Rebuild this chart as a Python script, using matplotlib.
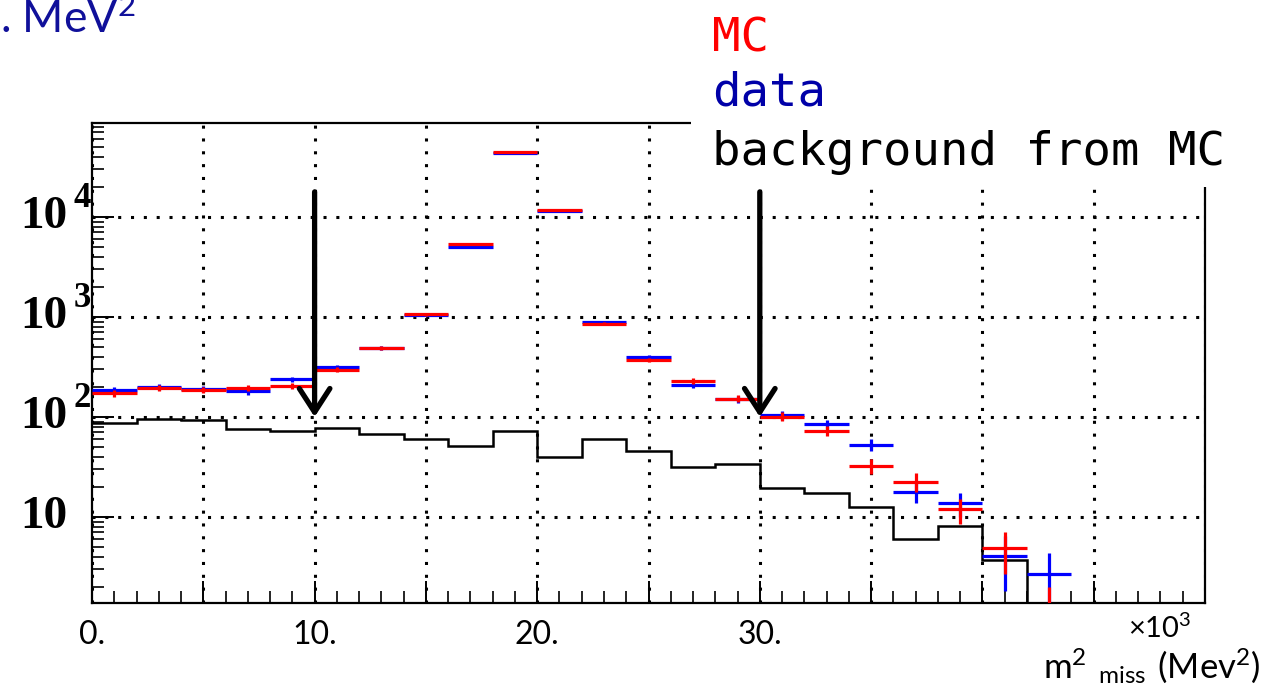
import numpy as np
import matplotlib
matplotlib.use('Agg')
import matplotlib.pyplot as plt
import matplotlib.ticker as ticker
import matplotlib.transforms as mtransforms
from matplotlib.patches import Rectangle

# m^2 miss bins (x10^3 MeV^2), 2 units wide
bin_edges = [0, 2, 4, 6, 8, 10, 12, 14, 16, 18, 20, 22, 24, 26, 28, 30, 32, 34, 36, 38, 40, 42, 44]
bin_centers = [1, 3, 5, 7, 9, 11, 13, 15, 17, 19, 21, 23, 25, 27, 29, 31, 33, 35, 37, 39, 41, 43]

mc_vals = [173, 196, 186, 196, 204, 297, 493, 1064, 5370, 44360, 11750, 858,
           372, 231, 152, 101, 73, 32.6, 22.5, 11.9, 4.9, 1.0]
mc_errs = [13, 14, 14, 14, 14, 17, 22, 33, 73, 210, 108, 29,
           19, 15, 12, 10, 8.5, 5.7, 4.8, 3.4, 2.2, 1.0]

data_vals = [186, 198, 192, 180, 238, 314, 493, 1050, 4977, 44000, 11480, 885,
             401, 207, 150, 104, 85, 52.5, 17.9, 13.7, 4.1, 2.7]
data_errs = [14, 14, 14, 13, 15, 18, 22, 32, 71, 210, 107, 30,
             20, 14, 12, 10, 9.2, 7.3, 4.2, 3.7, 2.3, 1.7]

bkg_vals = [87.8, 94.8, 92.7, 75.9, 72, 77.6, 67.1, 60.3, 51.6, 73, 39.8, 60.7,
            45.7, 31.6, 33.6, 19.4, 17.3, 12.7, 6.0, 8.2, 3.7, 0]

cut_positions = [10, 30]
x_ticks = [0, 5, 10, 15, 20, 25, 30, 35, 40, 45, 50]
x_ticklabels = ['0.', '', '10.', '', '20.', '', '30.', '', '', '', '']
y_decades = [10, 100, 1000, 10000]
y_exponents = ['', '2', '3', '4']

fig = plt.figure(figsize=(12.68, 6.9), dpi=100)
ax = fig.add_axes([92 / 1268, 87 / 690, 1113 / 1268, 480 / 690])

ax.set_yscale('log')
ax.set_xlim(0, 50)
ax.set_ylim(1.38, 87000)

# grid
ax.set_xticks(x_ticks)
ax.grid(True, which='major', color='black', linestyle=(0, (1.0, 3.2)), lw=2.2)

# histograms
ax.stairs(bkg_vals, bin_edges, baseline=None, color='black', lw=1.8, zorder=3)
ax.errorbar(bin_centers, data_vals, xerr=1, yerr=data_errs, fmt='none',
            ecolor='#0000ff', elinewidth=2.3, capsize=0, zorder=4)
ax.errorbar(bin_centers, mc_vals, xerr=1, yerr=mc_errs, fmt='none',
            ecolor='#ff0000', elinewidth=2.3, capsize=0, zorder=5)

# cut arrows
for xc in cut_positions:
    ax.annotate('', xy=(xc, 100), xytext=(xc, 17800),
                arrowprops=dict(arrowstyle='->, head_length=0.85, head_width=0.55',
                                mutation_scale=20, lw=3.8, color='black',
                                shrinkA=0, shrinkB=0), zorder=6)

# axis styling
for sp in ax.spines.values():
    sp.set_linewidth(1.6)
ax.xaxis.set_minor_locator(ticker.MultipleLocator(1))
ax.set_xticklabels(x_ticklabels, fontsize=23, family='Lato')
ax.tick_params(axis='x', which='major', direction='in', length=16, width=1.4, pad=12)
ax.tick_params(axis='x', which='minor', direction='in', length=8.5, width=1.2)
ax.tick_params(axis='y', which='major', direction='in', length=16, width=1.4,
               labelleft=False)
ax.tick_params(axis='y', which='minor', direction='in', length=8.5, width=1.2,
               labelleft=False)
ax.yaxis.set_minor_locator(ticker.LogLocator(base=10, subs=np.arange(2, 10)))
ax.yaxis.set_minor_formatter(ticker.NullFormatter())

# ROOT-like y labels
trans = mtransforms.blended_transform_factory(ax.transAxes, ax.transData)
for val, ex in zip(y_decades, y_exponents):
    ax.text(-0.0647, val, '10', transform=trans, ha='left', va='center',
            family='Liberation Serif', fontweight='bold', fontsize=34)
    if ex:
        t2 = mtransforms.offset_copy(trans, fig=fig, x=0, y=18, units='dots')
        ax.text(-0.0162, val, ex, transform=t2, ha='left', va='center',
                family='Liberation Serif', fontweight='bold', fontsize=25)

# x axis title and multiplier
plt.rcParams['mathtext.fontset'] = 'custom'
plt.rcParams['mathtext.rm'] = 'Lato'
fig.text(1128 / 1268, 1 - 638 / 690, r'$\mathregular{\times10^{3}}$',
         family='Lato', fontsize=21, ha='left', va='baseline')
fig.text(1260 / 1268, 1 - 678 / 690, r'$\mathregular{m^{2}\ {}_{miss}\ (Mev^{2})}$',
         family='Lato', fontsize=25, ha='right', va='baseline')

# cropped y title fragment
fig.text(0, 1 - 33 / 690, '. MeV$\\mathregular{^2}$', family='Lato', fontsize=32,
         color='#10109a', ha='left', va='baseline')

# legend box
box = Rectangle((691 / 1268, 1 - 187 / 690), 1 - 691 / 1268, 187 / 690,
                transform=fig.transFigure, facecolor='white', edgecolor='none', zorder=5)
fig.add_artist(box)
fig.text(712 / 1268, 1 - 52 / 690, 'MC', family='DejaVu Sans Mono', fontsize=34,
         color='#ff0000', va='baseline', zorder=6)
fig.text(712 / 1268, 1 - 106 / 690, 'data', family='DejaVu Sans Mono', fontsize=34,
         color='#0000a8', va='baseline', zorder=6)
fig.text(712 / 1268, 1 - 165 / 690, 'background from MC', family='DejaVu Sans Mono',
         fontsize=34, color='black', va='baseline', zorder=6)

fig.savefig('out.png', dpi=100)
